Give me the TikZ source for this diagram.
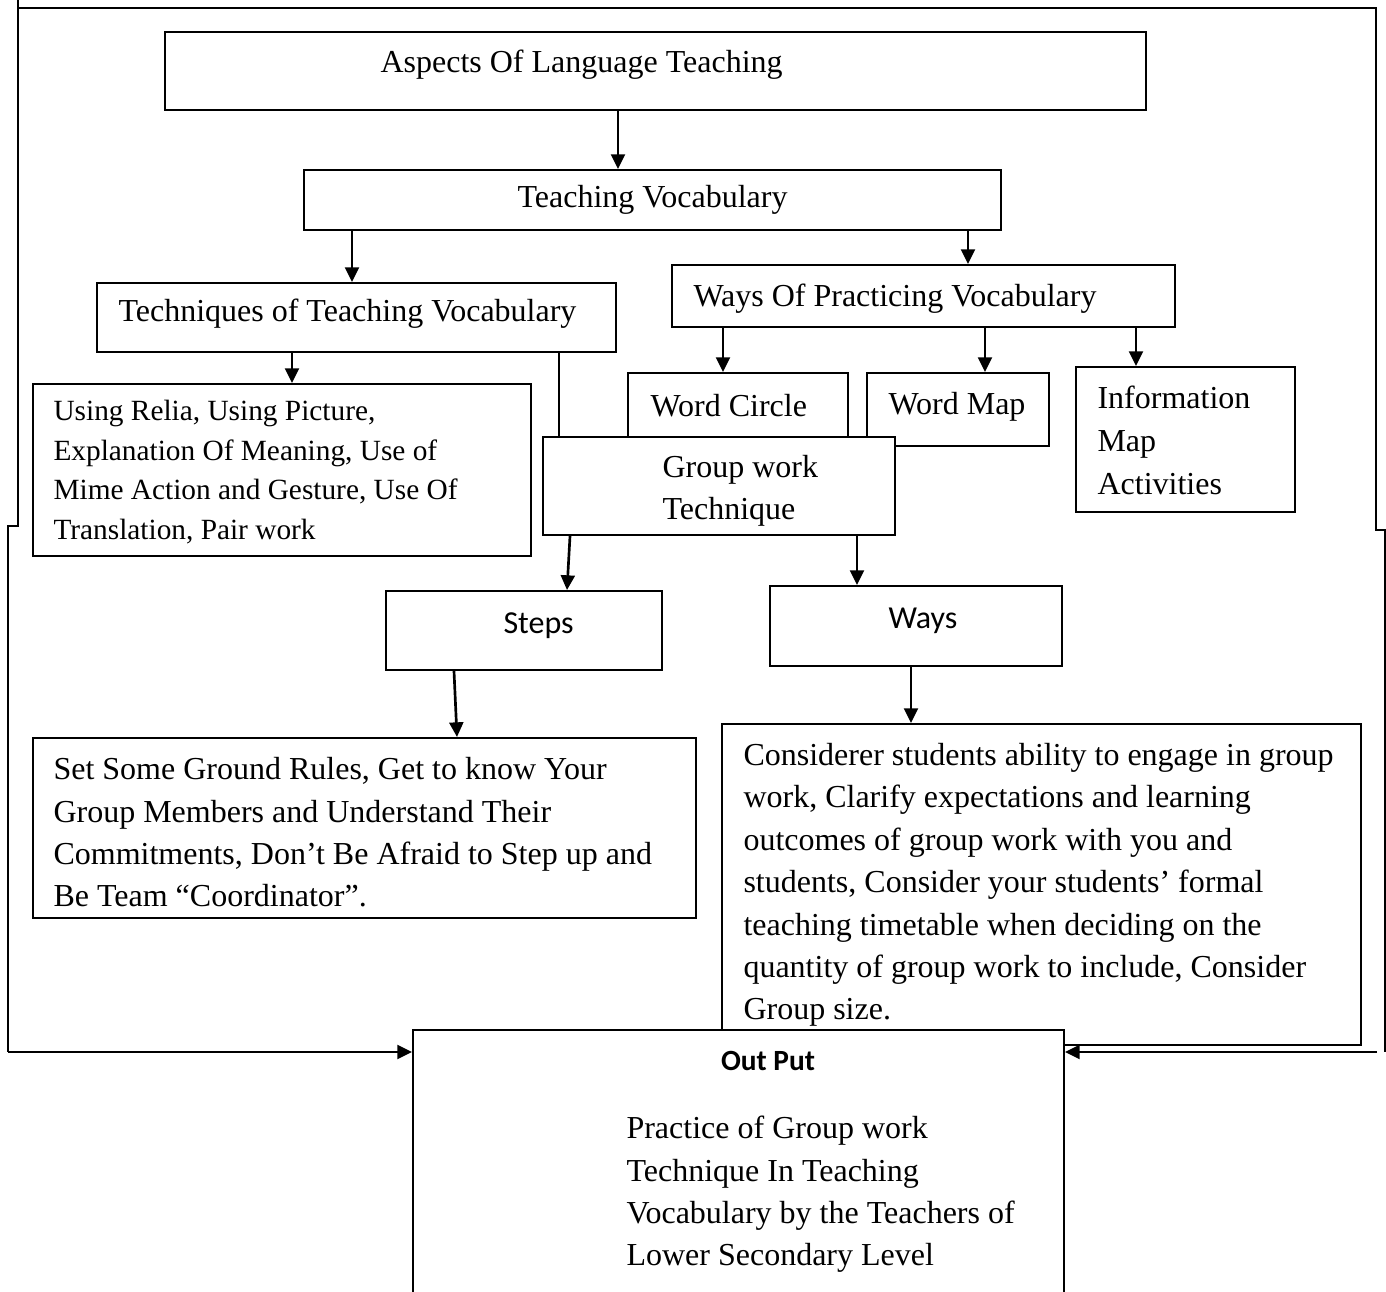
\documentclass[tikz,border=0pt]{standalone}
\usepackage{fontspec}
\setmainfont{Liberation Serif}
\setsansfont{Carlito}
\usetikzlibrary{arrows.meta}

\tikzset{
  box/.style={draw, line width=0.75pt, fill=white, inner sep=0pt},
  boxsize/.style 2 args={minimum width=#1*0.375pt, minimum height=#2*0.375pt},
  lbl/.style={inner sep=0pt, align=left, anchor=west, font=\fontsize{12}{15.9}\selectfont},
  smalllbl/.style={lbl, font=\fontsize{11}{14.8}\selectfont},
  sanslbl/.style={inner sep=0pt, anchor=west, font=\sffamily\fontsize{12}{14}\selectfont},
  arr/.style={-{Triangle[width=5.2pt,length=5.5pt]}, line width=1pt},
  frame/.style={line width=1pt},
}

\begin{document}
\begin{tikzpicture}[x=0.375pt, y=-0.375pt]

\useasboundingbox (0,0) rectangle (1386,1292);

%% outer frame
\draw[frame] (18,0) -- (18,526) -- (8,526) -- (8,1052) coordinate (lc);
\draw[frame] (18,8) -- (1376,8) -- (1376,530) -- (1385,530) -- (1385,1052);
\coordinate (rc) at (1377,1052);

%% top levels
\node[box, boxsize={981}{78}] (asp) at (655.5,71) {};
\node[lbl] (asp-t) at (380,65) {Aspects Of Language Teaching};

\node[box, boxsize={697}{60}] (tv) at (652.5,200) {};
\node[lbl] (tv-t) at (517,200) {Teaching Vocabulary};

\node[box, boxsize={519}{69}] (tech) at (356.5,317.5) {};
\node[lbl] (tech-t) at (118,314) {Techniques of Teaching Vocabulary};

\node[box, boxsize={503}{62}] (wop) at (923.5,296) {};
\node[lbl] (wop-t) at (693,299) {Ways Of Practicing Vocabulary};

%% techniques and practice
\node[box, boxsize={498}{172}] (use) at (282,470) {};
\node[smalllbl] (use-t) at (53,472) {Using Relia, Using Picture,\\
  Explanation Of Meaning, Use of\\Mime Action and Gesture, Use Of\\
  Translation, Pair work};

\node[box, boxsize={220}{73}] (wc) at (738,409.5) {};
\node[lbl] (wc-t) at (650,406) {Word Circle};

\node[box, boxsize={182}{73}] (wm) at (958,409.5) {};
\node[lbl] (wm-t) at (888,407) {Word Map};

\node[box, boxsize={219}{145}] (info) at (1185.5,439.5) {};
\node[lbl, font=\fontsize{12}{16}\selectfont] (info-t) at (1097,440.5)
  {Information\\Map\\Activities};

\node[box, boxsize={352}{98}] (grp) at (719,486) {};
\node[lbl] (grp-t) at (662,491) {Group work\\Technique};

%% steps and ways
\node[box, boxsize={276}{79}] (steps) at (524,630.5) {};
\node[sanslbl] (steps-t) at (503,626) {Steps};

\node[box, boxsize={292}{80}] (ways) at (916,626) {};
\node[sanslbl] (ways-t) at (888,621) {Ways};

\node[box, boxsize={663}{180}] (gr) at (364.5,828) {};
\node[lbl] (gr-t) at (53,832.5) {Set Some Ground Rules, Get to know Your\\
  Group Members and Understand Their\\
  Commitments, Don’t Be Afraid to Step up and\\
  Be Team “Coordinator”.};

\node[box, boxsize={639}{321}] (cons) at (1041.5,884.5) {};
\node[lbl] (cons-t) at (743,885) {Considerer students ability to engage in group\\
  work, Clarify expectations and learning\\
  outcomes of group work with you and\\
  students, Consider your students’ formal\\
  teaching timetable when deciding on the\\
  quantity of group work to include, Consider\\
  Group size.};

%% output
\node[box, boxsize={651}{290}, anchor=north west] (out) at (412,1029) {};
\node[sanslbl, anchor=center, font=\sffamily\bfseries\fontsize{11}{13}\selectfont]
  (out-title) at (768,1061) {Out Put};
\node[lbl] (out-t) at (626,1194.5) {Practice of Group work\\
  Technique In Teaching\\Vocabulary by the Teachers of\\
  Lower Secondary Level};

%% connectors
\draw[arr] (618,0 |- asp.south) -- (618,0 |- tv.north);
\draw[arr] (352,0 |- tv.south) -- (352,0 |- tech.north);
\draw[arr] (968,0 |- tv.south) -- (968,0 |- wop.north);
\draw[arr] (292,0 |- tech.south) -- (292,0 |- use.north);
\draw[line width=1pt] (559,0 |- tech.south) -- (559,0 |- grp.north);
\draw[arr] (723,0 |- wop.south) -- (723,0 |- wc.north);
\draw[arr] (985,0 |- wop.south) -- (985,0 |- wm.north);
\draw[arr] (1136,0 |- wop.south) -- (1136,0 |- info.north);
\draw[arr] (570,0 |- grp.south) -- (567,0 |- steps.north);
\draw[arr] (857,0 |- grp.south) -- (857,0 |- ways.north);
\draw[arr] (454,0 |- steps.south) -- (457,0 |- gr.north);
\draw[arr] (911,0 |- ways.south) -- (911,0 |- cons.north);
\draw[arr] (lc) -- (lc -| out.west);
\draw[arr] (rc) -- (rc -| out.east);

\end{tikzpicture}
\end{document}
